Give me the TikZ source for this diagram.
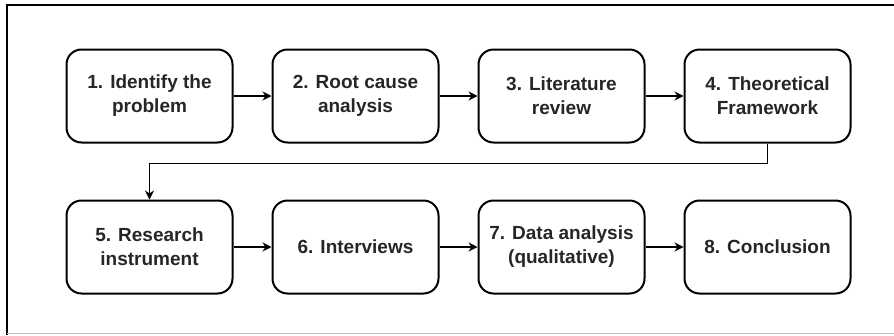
\documentclass[tikz,border=0pt]{standalone}
\usepackage{fontspec}
\setmainfont{Liberation Sans}
\usetikzlibrary{positioning, arrows.meta}

\begin{document}
\begin{tikzpicture}[
        x=1pt, y=-1pt,
        >={Stealth[length=9pt, width=9pt]},
        node distance=151pt and 206pt,
        on grid,
        every node/.style={font=\fontsize{19}{24}\selectfont\bfseries, text=black!85},
        stepbox/.style={draw, line width=2pt, rounded corners=15pt,
            minimum width=166pt, minimum height=93pt, align=center},
        link/.style={->, line width=1.3pt}
    ]
        \useasboundingbox (0,0) rectangle (894,335);
        \draw[line width=1.5pt] (7,335) -- (7,5) -- (894,5);
        \draw[black!25, line width=1pt] (7,333) -- (894,333);
        \node[stepbox] (s1) at (149.5,96) {1. Identify the\\problem};
\node[stepbox, right=of s1] (s2) {2. Root cause\\analysis};
        \node[stepbox, right=of s2] (s3) {3. Literature\\review};
        \node[stepbox, right=of s3] (s4) {4. Theoretical\\Framework};
        \node[stepbox, below=of s1] (s5) {5. Research\\instrument};
        \node[stepbox, right=of s5] (s6) {6. Interviews};
        \node[stepbox, right=of s6] (s7) {7. Data analysis\\(qualitative)};
        \node[stepbox, right=of s7] (s8) {8. Conclusion};
\path[link]
        (s1) edge (s2)
        (s2) edge (s3)
        (s3) edge (s4)
        (s5) edge (s6)
        (s6) edge (s7)
        (s7) edge (s8);
        \draw[link] (s4.south) -- ++(0,20) -| (s5.north);
\end{tikzpicture}
\end{document}
